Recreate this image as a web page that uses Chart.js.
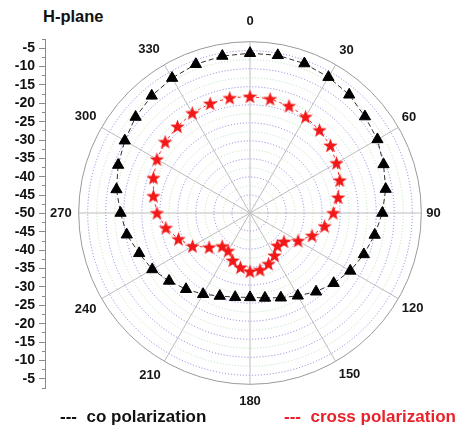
<!DOCTYPE html>
<html><head><meta charset="utf-8">
<script src="https://cdn.jsdelivr.net/npm/chart.js@4"></script>
<style>
html,body{margin:0;padding:0;background:#fff;width:458px;height:429px;overflow:hidden;position:relative;font-family:"Liberation Sans",Arial,sans-serif;}
canvas{position:absolute;}
.t{position:absolute;white-space:pre;font-weight:bold;}
</style></head><body>
<div class="t" id="title" style="left:43px;top:7.7px;font-size:16.5px;line-height:16.5px;color:#111"></div>
<canvas id="ax" width="60" height="429" style="left:0;top:0"></canvas>
<canvas id="polar" width="401" height="401" style="left:45px;top:12px"></canvas>
<div class="t" id="lg0" style="left:60px;top:407.6px;font-size:17px;line-height:17px;color:#111"></div>
<div class="t" id="lg1" style="left:284px;top:407.6px;font-size:17px;line-height:17px;color:#e8222a"></div>
<script>
const titleText = 'H-plane';
const angles = ['0','10','20','30','40','50','60','70','80','90','100','110','120','130','140','150','160','170',
                '180','190','200','210','220','230','240','250','260','270','280','290','300','310','320','330','340','350'];
const seriesNames = ['co polarization', 'cross polarization'];
const coPol = [-5.7, -5.6, -5.9, -6.5, -7.2, -8.4, -9.2, -10.6, -11.8, -13.3,
               -14.9, -16.4, -17.9, -19.7, -21.5, -23.5, -25.0, -26.1, -26.6, -26.3,
               -25.5, -24.0, -22.4, -20.7, -18.7, -17.3, -15.3, -14.1, -12.4, -11.1,
               -9.9, -8.6, -7.6, -6.8, -6.1, -5.8];
const crossPol = [-17.7, -17.9, -18.4, -19.2, -20.0, -20.9, -22.3, -23.5, -25.2, -26.9,
                  -29.0, -31.7, -34.6, -37.7, -38.2, -36.4, -35.0, -34.0, -33.8, -34.7,
                  -36.0, -37.9, -38.0, -35.2, -31.6, -28.9, -26.3, -24.2, -22.8, -21.5,
                  -20.2, -19.3, -18.7, -18.0, -17.7, -17.6];
const rMin = -50, rMax = -2.5, rStep = 2.5;
const axisMin = -47.5, axisMax = 47.5;   // left axis: distance from centre in dB

document.getElementById('title').textContent = titleText;
document.getElementById('lg0').textContent = '---  ' + seriesNames[0];
document.getElementById('lg1').textContent = '---  ' + seriesNames[1];

Chart.defaults.font.family = '"Liberation Sans", Arial, sans-serif';

function makeStar(color, R, r) {
  const size = 17;
  const c = document.createElement('canvas'); c.width = size; c.height = size;
  const g = c.getContext('2d');
  g.translate(size / 2, size / 2 + 0.6);
  g.beginPath();
  for (let i = 0; i < 10; i++) {
    const rad = i % 2 === 0 ? R : r;
    const a = -Math.PI / 2 + i * Math.PI / 5;
    g.lineTo(rad * Math.cos(a), rad * Math.sin(a));
  }
  g.closePath(); g.fillStyle = color; g.fill();
  return c;
}
const star = makeStar('#f21818', 7.6, 3.1);

const labelPad = [12, 7, 4, 5, 4, 6, 9, 7, 6, 7, 6, 9];   // padding of the 0,30,...,330 labels

// left dB axis
new Chart(document.getElementById('ax'), {
  type: 'line',
  data: { labels: [], datasets: [] },
  options: {
    responsive: false, animation: false,
    layout: { padding: { top: 39, bottom: 41, left: 0, right: 0 } },
    plugins: { legend: { display: false }, tooltip: { enabled: false } },
    scales: {
      x: { display: false },
      y: {
        type: 'linear', position: 'left', min: axisMin, max: axisMax,
        afterFit: s => { s.width = 45; },
        ticks: {
          stepSize: 2.5, autoSkip: false, padding: 4, color: '#111',
          font: { size: 14, weight: 'bold' },
          callback: v => (v % 5 === 0 ? String(rMin + Math.abs(v)) : '')
        },
        grid: {
          drawOnChartArea: false, drawTicks: true, tickLength: 6, tickColor: '#8a8a8a',
          tickBorderDash: c => (c.tick && c.tick.value % 5 === 0 ? [] : [3, 3]),
          tickBorderDashOffset: c => (c.tick && c.tick.value % 5 === 0 ? 0 : 3)
        },
        border: { display: true, color: '#8a8a8a', width: 1 }
      }
    }
  }
});

// polar plot
new Chart(document.getElementById('polar'), {
  type: 'radar',
  data: {
    labels: angles,
    datasets: [
      { label: seriesNames[0], data: coPol, borderColor: '#303030', borderWidth: 1, borderDash: [5, 3],
        pointStyle: 'triangle', pointRadius: 6.5, pointBackgroundColor: '#000', pointBorderColor: '#000',
        pointBorderWidth: 1, fill: false, tension: 0 },
      { label: seriesNames[1], data: crossPol, borderColor: '#ff3030', borderWidth: 1, borderDash: [3, 3],
        pointStyle: star, pointRadius: 8, fill: false, tension: 0 }
    ]
  },
  options: {
    responsive: false, animation: false,
    layout: { padding: 0 },
    plugins: { legend: { display: false }, tooltip: { enabled: false } },
    scales: {
      r: {
        min: rMin, max: rMax, beginAtZero: false,
        ticks: { display: false, stepSize: rStep },
        grid: {
          circular: true, lineWidth: 1,
          color: c => {
            const v = c.tick.value;
            if (v >= rMax) return '#9a9a9a';
            return (v % 5 === 0) ? '#7f80d6' : '#b4deb4';
          }
        },
        border: { dash: c => (c.tick && c.tick.value >= rMax ? [] : [1, 2]) },
        angleLines: {
          color: '#bdbdbd',
          lineWidth: c => (c.index % 3 === 0 ? 1 : 0)
        },
        pointLabels: {
          display: true, color: '#161616',
          font: { size: 13, weight: 'bold' },
          padding: c => (c.index % 3 === 0 ? labelPad[c.index / 3] : 0),
          callback: (lab, i) => (i % 3 === 0 ? lab : '')
        }
      }
    }
  }
});
</script>
</body></html>
